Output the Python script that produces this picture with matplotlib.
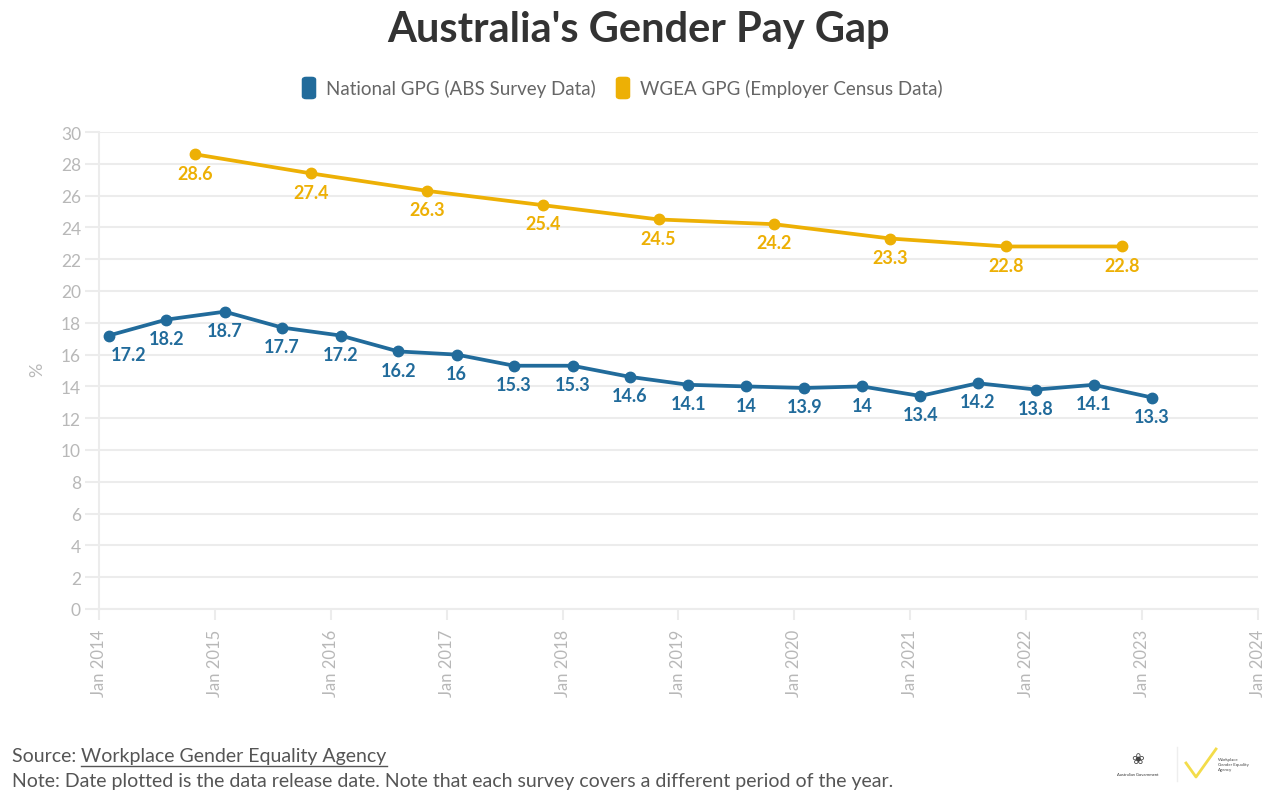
import matplotlib
matplotlib.use("Agg")
import matplotlib.pyplot as plt
import matplotlib.dates as mdates
from matplotlib.lines import Line2D
from matplotlib.patches import FancyBboxPatch
import pandas as pd

plt.rcParams["font.family"] = ["Lato", "DejaVu Sans"]

# ABS national gender pay gap, released Feb and Aug
abs_dates = ["2014-02-01", "2014-08-01", "2015-02-01", "2015-08-01", "2016-02-01",
             "2016-08-01", "2017-02-01", "2017-08-01", "2018-02-01", "2018-08-01",
             "2019-02-01", "2019-08-01", "2020-02-01", "2020-08-01", "2021-02-01",
             "2021-08-01", "2022-02-01", "2022-08-01", "2023-02-01"]
abs_gpg = [17.2, 18.2, 18.7, 17.7, 17.2, 16.2, 16, 15.3, 15.3, 14.6,
           14.1, 14, 13.9, 14, 13.4, 14.2, 13.8, 14.1, 13.3]

# WGEA employer census gap, released late October
wgea_dates = ["2014-10-30", "2015-10-30", "2016-10-30", "2017-10-30", "2018-10-30",
              "2019-10-30", "2020-10-30", "2021-10-30", "2022-10-30"]
wgea_gpg = [28.6, 27.4, 26.3, 25.4, 24.5, 24.2, 23.3, 22.8, 22.8]

abs_label = "National GPG (ABS Survey Data)"
wgea_label = "WGEA GPG (Employer Census Data)"

BLUE = "#216b9b"
YELLOW = "#edb005"
GRID = "#ececec"
TICK = "#b8b8b8"

abs_x = pd.to_datetime(abs_dates)
wgea_x = pd.to_datetime(wgea_dates)

fig = plt.figure(figsize=(12.8, 8.03), dpi=100)
ax = fig.add_axes([99 / 1280, 193 / 803, (1258 - 99) / 1280, (610 - 133) / 803])

ax.plot(wgea_x, wgea_gpg, color=YELLOW, lw=2.7, marker="o", ms=7.5, zorder=3,
        solid_capstyle="round", solid_joinstyle="round")
ax.plot(abs_x, abs_gpg, color=BLUE, lw=2.7, marker="o", ms=7.5, zorder=3,
        solid_capstyle="round", solid_joinstyle="round")

def fmt(v):
    return f"{v:g}"

for i, (d, v) in enumerate(zip(abs_x, abs_gpg)):
    dx = 14 if i == 0 else 0
    ax.annotate(fmt(v), (d, v), xytext=(dx, -13.5), textcoords="offset points",
                ha="center", va="center", color=BLUE, fontsize=13, fontweight="bold")
for d, v in zip(wgea_x, wgea_gpg):
    ax.annotate(fmt(v), (d, v), xytext=(0, -13.5), textcoords="offset points",
                ha="center", va="center", color=YELLOW, fontsize=13, fontweight="bold")

ax.set_xlim(pd.Timestamp("2014-01-01"), pd.Timestamp("2024-01-01"))
ax.set_ylim(0, 30)
ax.set_yticks(range(0, 31, 2))
ax.xaxis.set_major_locator(mdates.YearLocator())
ax.xaxis.set_major_formatter(mdates.DateFormatter("%b %Y"))
ax.tick_params(axis="x", rotation=90, colors=GRID, labelcolor=TICK, labelsize=12,
               length=8, width=1.5, pad=6)
ax.tick_params(axis="y", colors=GRID, labelcolor=TICK, labelsize=12.5, length=10,
               width=1.5, pad=3)
ax.grid(axis="y", color=GRID, lw=1.5)
ax.set_axisbelow(True)
for s in ["top", "right"]:
    ax.spines[s].set_visible(False)
for s in ["left", "bottom"]:
    ax.spines[s].set_color(GRID)
    ax.spines[s].set_linewidth(1.5)
fig.text(37 / 1280, 1 - 370 / 803, "%", rotation=90, ha="center", va="center",
         color=TICK, fontsize=13)

fig.text(0.4985, 1 - 30 / 803, "Australia's Gender Pay Gap", ha="center", va="center",
         fontsize=30, fontweight="bold", color="#333333")

# legend
leg_y = 89 / 803
items = [(BLUE, abs_label, 305), (YELLOW, wgea_label, 619)]
for c, lab, px in items:
    fig.patches.append(FancyBboxPatch((px / 1280, 1 - (leg_y * 803 + 9) / 803),
                                      8 / 1280, 18 / 803,
                                      boxstyle="round,pad=0.002,rounding_size=0.003",
                                      transform=fig.transFigure, fc=c, ec=c))
    fig.text((px + 21) / 1280, 1 - leg_y, lab, ha="left", va="center", fontsize=13.5,
             color="#666666")

# footer
FS = 14
src = fig.text(12 / 1280, 1 - 757 / 803, "Source: ", ha="left", va="center",
               fontsize=FS, color="#555555")
fig.canvas.draw()
r = fig.canvas.get_renderer()
bb = src.get_window_extent(r)
link = fig.text(bb.x1 / 1280, 1 - 757 / 803, "Workplace Gender Equality Agency",
                ha="left", va="center", fontsize=FS, color="#555555")
lb = link.get_window_extent(r)
fig.lines.append(Line2D([lb.x0 / 1280, lb.x1 / 1280], [(lb.y0 - 1) / 803] * 2,
                        transform=fig.transFigure, color="#555555", lw=1))
fig.text(12 / 1280, 1 - 782 / 803,
         "Note: Date plotted is the data release date. Note that each survey covers a different period of the year.",
         ha="left", va="center", fontsize=FS, color="#555555")

# logos (approximate)
fig.text(1138 / 1280, 1 - 775 / 803, "Australian Government", ha="center", va="center",
         fontsize=3, color="#333333")
fig.text(1138 / 1280, 1 - 760 / 803, "\u2740", ha="center", va="center",
         fontsize=11, color="#444444", family="DejaVu Sans")
fig.lines.append(Line2D([1177 / 1280, 1177 / 1280], [1 - 748 / 803, 1 - 782 / 803],
                        transform=fig.transFigure, color="#eeeeee", lw=1))
fig.lines.append(Line2D([1186 / 1280, 1196 / 1280, 1216 / 1280],
                        [1 - 764 / 803, 1 - 778 / 803, 1 - 750 / 803],
                        transform=fig.transFigure, color="#f3dc4a", lw=2))
fig.text(1218 / 1280, 1 - 765 / 803, "Workplace\nGender Equality\nAgency", ha="left",
         va="center", fontsize=3.2, color="#444444", linespacing=1.2)

fig.savefig("out.png", dpi=100, facecolor="white")
